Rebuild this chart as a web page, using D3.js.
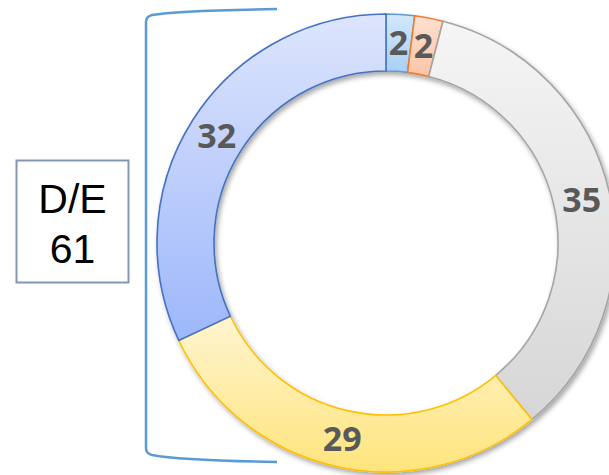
<!DOCTYPE html>
<html>
<head>
<meta charset="utf-8">
<script src="https://cdn.jsdelivr.net/npm/d3@7"></script>
<style>
html,body{margin:0;padding:0;background:#fff;}
svg{display:block;}
</style>
</head>
<body>
<svg id="chart" width="609" height="475"></svg>
<script>
const categories = ["A", "B", "C", "D", "E"];
const values = [2, 2, 35, 29, 32];
const fillTop = ["#d3e8fc", "#fde0d0", "#f5f5f5", "#fff5d0", "#dde5fd"];
const fillBottom = ["#a9cff5", "#fbc5a6", "#d6d6d6", "#ffe47c", "#9db7fa"];
const strokes = ["#5b9bd5", "#ed7d31", "#a5a5a5", "#ffc000", "#4472c4"];
const boxLines = ["D/E", "61"];

const svg = d3.select("#chart");
const cx = 386, cy = 243, rOuter = 229, rInner = 172;

const defs = svg.append("defs");
categories.forEach((c, i) => {
  const g = defs.append("linearGradient").attr("id", "grad" + i)
    .attr("x1", 0).attr("y1", 0).attr("x2", 0).attr("y2", 1);
  g.append("stop").attr("offset", "0%").attr("stop-color", fillTop[i]);
  g.append("stop").attr("offset", "100%").attr("stop-color", fillBottom[i]);
});
const f = defs.append("filter").attr("id", "shadow")
  .attr("x", "-10%").attr("y", "-10%").attr("width", "120%").attr("height", "120%");
f.append("feDropShadow").attr("dx", 2).attr("dy", 3).attr("stdDeviation", 2.5)
  .attr("flood-color", "#000").attr("flood-opacity", 0.35);

const pie = d3.pie().sort(null).value(d => d)(values);
const arc = d3.arc().innerRadius(rInner).outerRadius(rOuter);
const labelArc = d3.arc().innerRadius((rInner + rOuter) / 2).outerRadius((rInner + rOuter) / 2);

const g = svg.append("g").attr("transform", `translate(${cx},${cy})`);
g.append("g").attr("filter", "url(#shadow)")
  .selectAll("path").data(pie).join("path")
  .attr("d", arc)
  .attr("fill", (d, i) => `url(#grad${i})`)
  .attr("stroke", (d, i) => strokes[i])
  .attr("stroke-width", 1.6)
  .attr("stroke-linejoin", "miter");

g.selectAll("text").data(pie).join("text")
  .attr("transform", d => `translate(${labelArc.centroid(d)})`)
  .attr("text-anchor", "middle")
  .attr("dy", "0.36em")
  .attr("font-family", "'Open Sans', Lato, sans-serif")
  .attr("font-weight", "bold")
  .attr("font-size", 34)
  .attr("fill", "#595959")
  .text(d => d.data);

// bracket
svg.append("path")
  .attr("d", "M277,9 C215,10 168,12 152,15 Q146,16.5 146,22 L146,448 Q146,453.5 152,455 C168,458 215,461 277,462")
  .attr("fill", "none")
  .attr("stroke", "#5b9bd5")
  .attr("stroke-width", 2.5);

// box
svg.append("rect")
  .attr("x", 16.5).attr("y", 160.5).attr("width", 112).attr("height", 122)
  .attr("fill", "#fff").attr("stroke", "#8497b0").attr("stroke-width", 2);
svg.selectAll("text.box").data(boxLines).join("text")
  .attr("class", "box")
  .attr("x", 72.5)
  .attr("y", (d, i) => 213 + i * 50)
  .attr("text-anchor", "middle")
  .attr("font-family", "'Liberation Sans', Arial, sans-serif")
  .attr("font-size", 41)
  .attr("fill", "#000")
  .text(d => d);
</script>
</body>
</html>
